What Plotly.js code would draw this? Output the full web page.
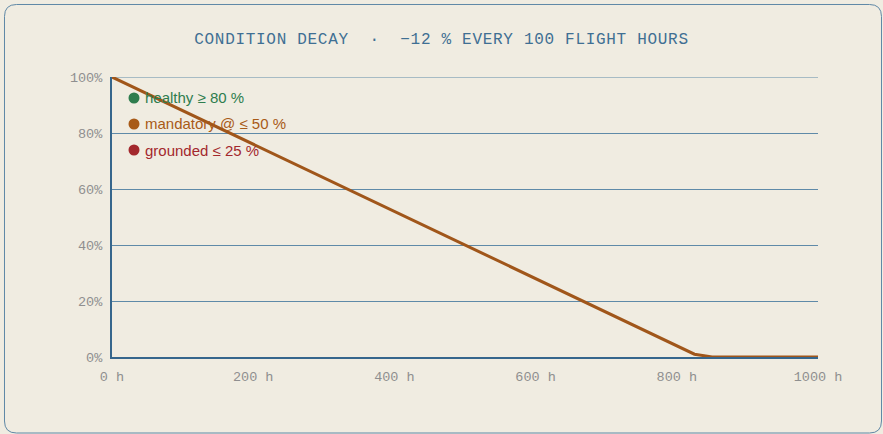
<!DOCTYPE html>
<html>
<head>
<meta charset="utf-8">
<script src="https://cdn.plot.ly/plotly-3.0.1.min.js"></script>
<style>
html,body{margin:0;padding:0;background:#f0ece1;}
#chart{width:883px;height:434px;}
.gtitle{letter-spacing:0.7px;}
</style>
</head>
<body>
<div id="chart"></div>
<script>
// Data
const hours = [0,25,50,75,100,125,150,175,200,225,250,275,300,325,350,375,400,425,450,475,500,525,550,575,600,625,650,675,700,725,750,775,800,825,850,875,900,925,950,975,1000];
const condition = [100,97,94,91,88,85,82,79,76,73,70,67,64,61,58,55,52,49,46,43,40,37,34,31,28,25,22,19,16,13,10,7,4,1,0,0,0,0,0,0,0];
const xTickVals = [0, 200, 400, 600, 800, 1000];
const xTickText = ["0 h", "200 h", "400 h", "600 h", "800 h", "1000 h"];
const yTickVals = [0, 20, 40, 60, 80, 100];
const yTickText = ["0%", "20%", "40%", "60%", "80%", "100%"];
const legendLabels = ["healthy \u2265 80 %", "mandatory @ \u2264 50 %", "grounded \u2264 25 %"];
const legendColors = ["#2e7d4e", "#a85a17", "#a3282d"];
const titleText = "CONDITION DECAY  \u00b7  \u221212 % EVERY 100 FLIGHT HOURS";

const W = 883, H = 434;
const M = {l:112, r:65, t:77, b:77};
const pw = W - M.l - M.r, ph = H - M.t - M.b;
const px = x => (x - M.l) / pw;
const py = y => (H - M.b - y) / ph;

// rounded frame path in paper coords
function framePath(x0, y0, x1, y1, r) {
  const P = (x, y) => px(x).toFixed(5) + ',' + py(y).toFixed(5);
  return 'M' + P(x0 + r, y0) + ' L' + P(x1 - r, y0) + ' Q' + P(x1, y0) + ' ' + P(x1, y0 + r) +
    ' L' + P(x1, y1 - r) + ' Q' + P(x1, y1) + ' ' + P(x1 - r, y1) +
    ' L' + P(x0 + r, y1) + ' Q' + P(x0, y1) + ' ' + P(x0, y1 - r) +
    ' L' + P(x0, y0 + r) + ' Q' + P(x0, y0) + ' ' + P(x0 + r, y0) + ' Z';
}

const shapes = [{
  type: 'path', xref: 'paper', yref: 'paper', layer: 'below',
  path: framePath(4.5, 4.5, 881.5, 433, 12),
  line: {color: '#5f88a6', width: 1}, fillcolor: 'rgba(0,0,0,0)'
}, {
  type: 'line', xref: 'paper', yref: 'y', x0: 0, x1: 1, y0: 100, y1: 100, layer: 'below',
  line: {color: '#5f8aa8', width: 1}
}];
const annotations = [];
const dotY = [98, 124, 150];
legendLabels.forEach((lab, i) => {
  shapes.push({
    type: 'circle', xref: 'paper', yref: 'paper',
    xsizemode: 'pixel', ysizemode: 'pixel',
    xanchor: px(134), yanchor: py(dotY[i]),
    x0: -5.5, x1: 5.5, y0: -5.5, y1: 5.5,
    fillcolor: legendColors[i], line: {width: 0}
  });
  annotations.push({
    xref: 'paper', yref: 'paper', x: px(143), y: py(dotY[i]),
    xanchor: 'left', yanchor: 'middle', showarrow: false,
    text: lab, font: {family: 'Liberation Sans, Arial, sans-serif', size: 15, color: legendColors[i]}
  });
});

const trace = {
  x: hours, y: condition, type: 'scatter', mode: 'lines',
  line: {color: '#a0561a', width: 3}, cliponaxis: false, hoverinfo: 'skip'
};

const tickFont = {family: 'Liberation Mono, Courier New, monospace', size: 13.5, color: '#8f8f8f'};

const layout = {
  width: W, height: H,
  margin: M,
  paper_bgcolor: '#f0ece1', plot_bgcolor: '#f0ece1',
  showlegend: false,
  title: {text: titleText, x: 0.5, xanchor: 'center', y: 1 - 38 / H, yanchor: 'middle',
    font: {family: 'Liberation Mono, Courier New, monospace', size: 16, color: '#3f6f93'}},
  xaxis: {
    range: [0, 1000], tickmode: 'array', tickvals: xTickVals, ticktext: xTickText,
    showgrid: false, zeroline: false, showline: true, linecolor: '#36668c', linewidth: 2,
    ticks: 'outside', ticklen: 6, tickcolor: 'rgba(0,0,0,0)', tickfont: tickFont, fixedrange: true
  },
  yaxis: {
    range: [0, 100], tickmode: 'array', tickvals: yTickVals, ticktext: yTickText,
    showgrid: true, gridcolor: '#5f8aa8', gridwidth: 1, zeroline: false,
    showline: true, linecolor: '#36668c', linewidth: 2,
    ticks: 'outside', ticklen: 5, tickcolor: 'rgba(0,0,0,0)', tickfont: tickFont, fixedrange: true
  },
  shapes: shapes,
  annotations: annotations
};

Plotly.newPlot('chart', [trace], layout, {displayModeBar: false, staticPlot: true});
</script>
</body>
</html>
